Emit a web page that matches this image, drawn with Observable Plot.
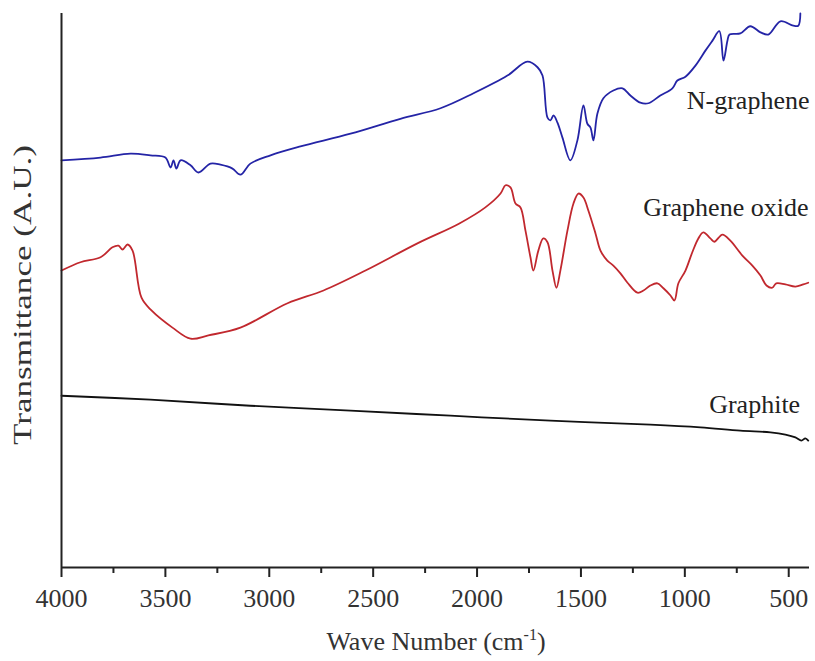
<!DOCTYPE html>
<html>
<head>
<meta charset="utf-8">
<script src="https://cdn.jsdelivr.net/npm/d3@7"></script>
<script src="https://cdn.jsdelivr.net/npm/@observablehq/plot@0.6"></script>
<style>
  html, body { margin: 0; padding: 0; background: #fff; }
  svg text, svg tspan { font-family: "Liberation Serif", "Times New Roman", serif !important; }
</style>
</head>
<body>
<div id="chart"></div>
<script>
const SERIF = "Liberation Serif";

// Tick values
const majorTicks = [4000, 3500, 3000, 2500, 2000, 1500, 1000, 500];
const minorTicks = [3750, 3250, 2750, 2250, 1750, 1250, 750];

// N-graphene (wavenumber cm-1, transmittance a.u.)
const nWave = [4000, 3812, 3668, 3572, 3500, 3475, 3461, 3447, 3427, 3379, 3341, 3283, 3235, 3177, 3139, 3091, 2994, 2850, 2609, 2369, 2176, 2017, 1854, 1758, 1709, 1685, 1661, 1647, 1632, 1613, 1589, 1551, 1517, 1488, 1469, 1454, 1440, 1421, 1392, 1344, 1300, 1262, 1214, 1175, 1118, 1060, 1036, 997, 949, 901, 867, 834, 814, 795, 785, 733, 685, 636, 598, 540, 478, 454, 444];
const nT    = [73.5, 74.0, 74.7, 74.4, 74.0, 72.2, 73.5, 72.0, 73.5, 72.6, 71.3, 72.9, 72.7, 72.0, 70.9, 72.9, 74.4, 76.0, 78.3, 81.0, 82.9, 85.6, 88.8, 91.3, 90.3, 88.8, 81.2, 80.7, 81.6, 80.3, 77.6, 73.5, 77.1, 83.4, 80.1, 79.4, 77.1, 81.9, 84.7, 86.1, 86.5, 85.2, 83.9, 83.8, 85.2, 86.5, 87.9, 88.6, 90.6, 93.3, 95.1, 96.8, 91.5, 95.1, 96.2, 96.4, 97.7, 96.6, 96.2, 98.6, 97.8, 97.8, 100];

// Graphene oxide
const goWave = [4000, 3909, 3812, 3755, 3726, 3706, 3682, 3658, 3615, 3567, 3466, 3379, 3293, 3139, 2912, 2739, 2537, 2287, 2085, 1960, 1887, 1863, 1839, 1815, 1791, 1767, 1743, 1729, 1705, 1681, 1661, 1637, 1618, 1599, 1565, 1536, 1512, 1488, 1464, 1430, 1406, 1373, 1344, 1310, 1276, 1228, 1199, 1166, 1132, 1103, 1069, 1050, 1031, 997, 964, 935, 911, 877, 858, 819, 781, 723, 675, 636, 607, 579, 560, 516, 468, 430, 406];
const goT    = [53.6, 55.1, 56.0, 57.8, 58.1, 57.4, 58.3, 57.2, 48.7, 46.4, 43.3, 41.3, 41.9, 43.3, 47.7, 50.0, 53.6, 58.5, 62.1, 65.0, 67.5, 69.0, 68.6, 65.7, 65.0, 60.8, 56.0, 53.6, 57.2, 59.4, 58.7, 53.6, 50.5, 53.6, 60.8, 65.7, 67.5, 66.8, 64.4, 60.3, 57.2, 55.4, 54.5, 53.1, 51.4, 49.6, 50.0, 50.9, 51.3, 50.4, 49.1, 48.2, 51.3, 53.6, 56.9, 59.4, 60.5, 59.4, 58.8, 60.1, 59.0, 56.3, 54.5, 52.7, 50.9, 50.5, 51.3, 51.1, 50.7, 51.1, 51.4];

// Graphite
const grWave = [4000, 3572, 3091, 2609, 2128, 1647, 1166, 925, 733, 588, 516, 468, 439, 420, 406];
const grT    = [31.0, 30.3, 29.2, 28.3, 27.4, 26.5, 25.8, 25.3, 24.7, 24.4, 24.0, 23.5, 22.9, 23.3, 22.9];

// Labels
const seriesNames = ["N-graphene", "Graphene oxide", "Graphite"];
const seriesColors = ["#2424a6", "#c1282e", "#111111"];
const labelWave = [400, 405, 445];
const labelT = [84.3, 65.0, 29.4];

const rows = [];
[[nWave, nT, seriesNames[0]], [goWave, goT, seriesNames[1]], [grWave, grT, seriesNames[2]]]
  .forEach(([w, t, s]) => w.forEach((x, i) => rows.push({wave: x, t: t[i], series: s})));
const labels = seriesNames.map((s, i) => ({series: s, wave: labelWave[i], t: labelT[i]}));

const chart = Plot.plot({
  width: 815,
  height: 661,
  marginLeft: 61,
  marginRight: 6,
  marginTop: 13,
  marginBottom: 94,
  style: {fontFamily: SERIF, background: "#fff", color: "#222"},
  x: {domain: [4000, 400]},
  y: {domain: [0, 100]},
  color: {domain: seriesNames, range: seriesColors},
  marks: [
    Plot.line(rows, {x: "wave", y: "t", z: "series", stroke: "series", strokeWidth: 1.8, curve: "catmull-rom"}),
    Plot.text(labels, {x: "wave", y: "t", text: "series", textAnchor: "end", fontSize: 26, fontFamily: SERIF, fill: "#222"}),
    Plot.ruleY([0], {stroke: "#222", strokeWidth: 2}),
    Plot.ruleX([4000], {stroke: "#222", strokeWidth: 2}),
    Plot.axisX(majorTicks, {tickSize: 10, tickPadding: 11, tickFormat: "d", fontSize: 26, fontFamily: SERIF, strokeWidth: 2, label: null, fill: "#333"}),
    Plot.axisX(minorTicks, {tickSize: 6, text: null, strokeWidth: 2, label: null}),
    Plot.axisY({ticks: [], label: null, tickSize: 0})
  ]
});

const svg = d3.select(chart);
// x-axis title with superscript
const xt = svg.append("text")
  .attr("x", 436).attr("y", 650)
  .attr("text-anchor", "middle")
  .attr("font-size", 26)
  .attr("fill", "#333");
xt.append("tspan").text("Wave Number (cm");
xt.append("tspan").attr("font-size", 16).attr("dy", -10).text("-1");
xt.append("tspan").attr("dy", 10).text(")");

// y-axis title
svg.append("text")
  .attr("transform", "translate(31,295) rotate(-90)")
  .attr("text-anchor", "middle")
  .attr("font-size", 25)
  .attr("fill", "#333")
  .attr("textLength", 300)
  .attr("lengthAdjust", "spacingAndGlyphs")
  .text("Transmittance (A.U.)");

svg.selectAll("text, tspan").style("font-family", "'Liberation Serif', serif");

document.getElementById("chart").appendChild(chart);
</script>
</body>
</html>
